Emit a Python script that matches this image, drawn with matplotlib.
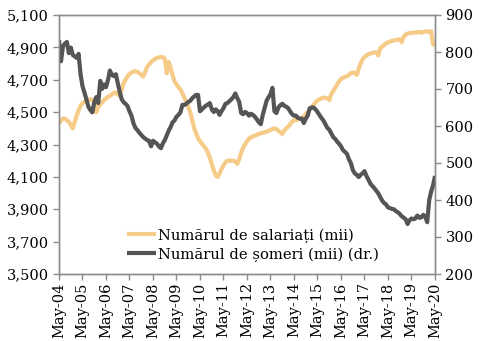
import matplotlib
matplotlib.use("Agg")
import matplotlib.pyplot as plt
import pandas as pd

# Monthly data, May 2004 - May 2020
dates = pd.date_range("2004-05-01", "2020-05-01", freq="MS")

salariati = [
    4430, 4450, 4460, 4460, 4450, 4440, 4420, 4400, 4440, 4480, 4510, 4540,
    4555, 4565, 4570, 4575, 4580, 4575, 4560, 4500, 4530, 4550, 4560, 4575,
    4585, 4595, 4600, 4610, 4620, 4620, 4610, 4600, 4640, 4680, 4700, 4720,
    4735, 4745, 4750, 4752, 4750, 4740, 4730, 4720, 4750, 4780, 4795, 4810,
    4820, 4828, 4835, 4838, 4840, 4840, 4830, 4740, 4810, 4770, 4730, 4690,
    4670, 4655, 4640, 4615, 4590, 4560, 4530, 4500, 4450, 4400, 4370, 4340,
    4320, 4305, 4290, 4275, 4250, 4220, 4180, 4140, 4110, 4100, 4120, 4150,
    4170, 4190, 4200, 4200, 4200, 4200, 4195, 4180, 4210, 4250, 4280, 4300,
    4320, 4335, 4345, 4350, 4355, 4360, 4365, 4370, 4372, 4375, 4380, 4385,
    4390, 4395, 4400, 4395, 4385, 4375, 4365, 4385, 4400, 4410, 4425, 4440,
    4450, 4450, 4455, 4458, 4460, 4475, 4488, 4500, 4515, 4530, 4545, 4560,
    4572, 4580, 4585, 4588, 4590, 4585, 4575, 4610, 4630, 4650, 4670, 4690,
    4705, 4712, 4718, 4722, 4730, 4740, 4745, 4740, 4730, 4770, 4800, 4825,
    4840, 4850, 4858, 4862, 4866, 4868, 4870, 4850, 4895, 4905, 4915, 4925,
    4930, 4935, 4940, 4943, 4946, 4948, 4950, 4932, 4965, 4980, 4985, 4988,
    4990, 4990, 4992, 4993, 4995, 4990, 4995, 4998, 5000, 4995, 5000, 4920,
    4910,
]

someri = [
    832, 775, 815, 823, 827, 797, 812, 792, 788, 784, 795, 740,
    708, 690, 672, 652, 643, 637, 665, 678, 662, 722, 700, 712,
    705, 724, 750, 738, 735, 740, 716, 692, 672, 664, 660, 654,
    640, 628, 608, 595, 589, 582, 576, 570, 566, 562, 560, 545,
    560, 556, 552, 545, 540, 553, 562, 575, 588, 598, 610, 615,
    625, 630, 637, 657, 657, 660, 665, 668, 675, 680, 684, 684,
    640, 645, 650, 655, 658, 662, 645, 638, 645, 640, 630, 640,
    648, 660, 662, 667, 672, 678, 688, 676, 665, 635, 632, 638,
    635, 628, 633, 630, 625, 618, 610, 605, 630, 650, 668, 678,
    686, 703, 640, 635, 650, 656, 660, 655, 652, 648, 640, 632,
    628, 628, 622, 620, 620, 608, 620, 628, 648, 650, 650, 645,
    638, 630, 622, 615, 605, 595, 590, 580, 570, 565, 558, 552,
    545, 535, 530, 525, 510, 500, 481, 472, 468, 462, 468, 472,
    478, 465, 455, 444, 438, 432, 425, 418, 408, 398, 392, 388,
    380, 378, 376, 375, 370, 367, 362, 356, 352, 348, 335, 345,
    350, 348, 350, 358, 352, 353, 360, 355, 340, 400, 422, 440,
    465,
]

label_sal = "Numărul de salariați (mii)"
label_som = "Numărul de șomeri (mii) (dr.)"
tick_years = list(range(2004, 2021))
tick_labels = [f"May-{y % 100:02d}" for y in tick_years]

plt.rcParams["font.family"] = ["DejaVu Serif"]
col_sal = "#F6CB88"
col_som = "#555555"
spine_col = "#8C8C8C"

fig = plt.figure(figsize=(4.82, 3.41), dpi=100)
ax = fig.add_axes([59 / 482, 1 - 274 / 341, (435 - 59) / 482, (274 - 15) / 341])
ax2 = ax.twinx()

l1, = ax.plot(dates, salariati, color=col_sal, lw=3.0, solid_capstyle="butt", label=label_sal)
l2, = ax2.plot(dates, someri, color=col_som, lw=3.0, solid_capstyle="butt", label=label_som)

ax.set_ylim(3500, 5100)
ax.set_yticks(range(3500, 5101, 200))
ax.set_yticklabels([f"{v:,}" for v in range(3500, 5101, 200)])
ax2.set_ylim(200, 900)
ax2.set_yticks(range(200, 901, 100))

ax.set_xlim(dates[0], dates[-1])
ticks = [pd.Timestamp(f"{y}-05-01") for y in tick_years]
ax.set_xticks(ticks)
ax.set_xticklabels(tick_labels, rotation=90)

for a in (ax, ax2):
    for s in a.spines.values():
        s.set_color(spine_col)
        s.set_linewidth(1.0)
    a.tick_params(colors=spine_col, labelcolor="black", labelsize=10.5,
                  length=4, width=1.0, direction="out")
ax.tick_params(axis="x", pad=2)

leg = ax2.legend(handles=[l1, l2], loc="upper left", bbox_to_anchor=(0.18, 0.178),
                 frameon=False, fontsize=10.6, handlelength=2.0, handletextpad=0.1,
                 borderaxespad=0, labelspacing=0.32, borderpad=0)

fig.savefig("out.png", dpi=100)
